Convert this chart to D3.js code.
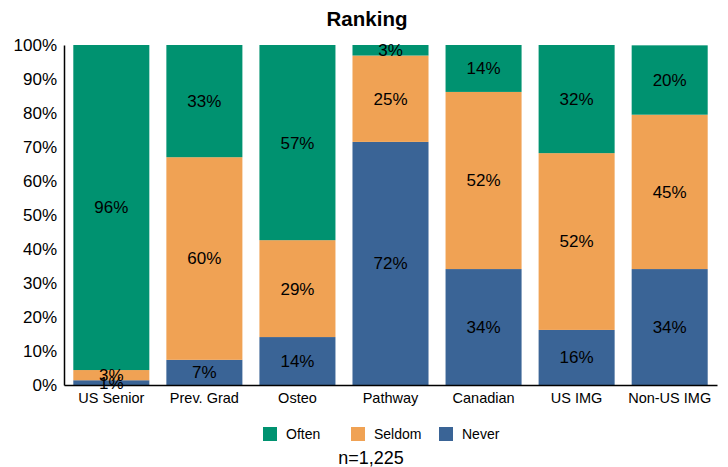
<!DOCTYPE html>
<html>
<head>
<meta charset="utf-8">
<script src="https://cdn.jsdelivr.net/npm/d3@7"></script>
<style>
  body { margin: 0; background: #fff; }
  svg text { font-family: Arial, "Liberation Sans", sans-serif; fill: #000; }
</style>
</head>
<body>
<svg id="chart" width="728" height="467"></svg>
<script>
// categories and shares (percent)
var categories = ["US Senior", "Prev. Grad", "Osteo", "Pathway", "Canadian", "US IMG", "Non-US IMG"];
var never  = [1.4, 7.4, 14.1, 71.5, 34.1, 16.2, 34.1];
var seldom = [3.0, 59.6, 28.5, 25.4, 52.1, 52.0, 45.4];
var often  = [95.6, 33.0, 57.4, 3.1, 13.8, 31.8, 20.4];
var seriesNames = ["Never", "Seldom", "Often"];
var legendOrder = ["Often", "Seldom", "Never"];
var yTicks = [0, 10, 20, 30, 40, 50, 60, 70, 80, 90, 100];

var colors = {Often: "#009270", Seldom: "#F0A254", Never: "#3A6496"};

var margin = {top: 45, right: 11, bottom: 82, left: 64};
var width = 728 - margin.left - margin.right;
var height = 467 - margin.top - margin.bottom;

var svg = d3.select("#chart");
var g = svg.append("g")
    .attr("transform", "translate(" + margin.left + "," + margin.top + ")");

var x = d3.scaleBand()
  .domain(categories)
  .range([0, width])
  .paddingInner(0.183)
  .paddingOuter(0.1);

var y = d3.scaleLinear()
  .domain([0, 100])
  .range([height, 0]);

var table = categories.map(function(c, i) {
  return {cat: c, Never: never[i], Seldom: seldom[i], Often: often[i]};
});

var stacked = d3.stack().keys(seriesNames)(table);

// bars
var layers = g.selectAll(".layer")
  .data(stacked)
  .enter().append("g")
    .attr("class", "layer")
    .attr("fill", function(d) { return colors[d.key]; });

layers.selectAll("rect")
  .data(function(d) { return d; })
  .enter().append("rect")
    .attr("x", function(d) { return x(d.data.cat); })
    .attr("y", function(d) { return y(d[1]); })
    .attr("height", function(d) { return y(d[0]) - y(d[1]); })
    .attr("width", x.bandwidth());

// value labels
stacked.forEach(function(layer) {
  g.selectAll(".lbl-" + layer.key)
    .data(layer)
    .enter().append("text")
      .attr("class", "lbl-" + layer.key)
      .attr("x", function(d) { return x(d.data.cat) + x.bandwidth() / 2; })
      .attr("y", function(d) { return y((d[0] + d[1]) / 2); })
      .attr("dy", "0.35em")
      .attr("text-anchor", "middle")
      .style("font-size", "17px")
      .text(function(d) { return Math.round(d[1] - d[0]) + "%"; });
});

// y axis
var yAxis = g.append("g")
    .call(d3.axisLeft(y).tickValues(yTicks).tickSize(0).tickPadding(7)
      .tickFormat(function(d) { return d + "%"; }));
yAxis.select(".domain").attr("stroke", "#000").attr("stroke-width", 1.5);
yAxis.selectAll("text").style("font-size", "17px").style("font-family", "Arial, 'Liberation Sans', sans-serif");

// x axis
var xAxis = g.append("g")
    .attr("transform", "translate(0," + height + ")")
    .call(d3.axisBottom(x).tickSize(0).tickPadding(8));
xAxis.select(".domain").attr("stroke", "#000").attr("stroke-width", 1.5);
xAxis.selectAll("text").style("font-size", "14.5px").style("font-family", "Arial, 'Liberation Sans', sans-serif");

// title
svg.append("text")
  .attr("x", 367)
  .attr("y", 26)
  .attr("text-anchor", "middle")
  .style("font-size", "20.5px")
  .style("font-weight", "bold")
  .text("Ranking");

// legend
var legend = svg.append("g").attr("transform", "translate(263,427)");
var item = legend.selectAll(".item")
  .data(legendOrder)
  .enter().append("g")
    .attr("class", "item")
    .attr("transform", function(d, i) { return "translate(" + (i * 88) + ",0)"; });
item.append("rect")
  .attr("width", 14)
  .attr("height", 14)
  .attr("fill", function(d) { return colors[d]; });
item.append("text")
  .attr("x", 23)
  .attr("y", 7)
  .attr("dy", "0.35em")
  .style("font-size", "14px")
  .text(function(d) { return d; });

// sample size
svg.append("text")
  .attr("x", 371)
  .attr("y", 464)
  .attr("text-anchor", "middle")
  .style("font-size", "18px")
  .text("n=1,225");
</script>
</body>
</html>
